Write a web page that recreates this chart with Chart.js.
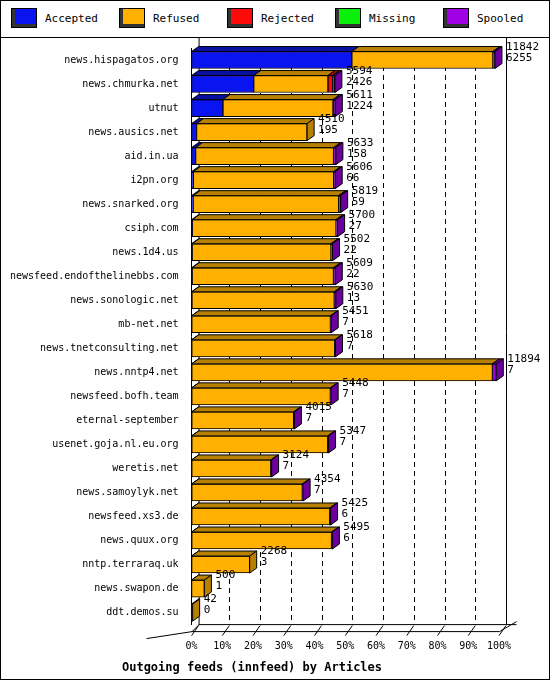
<!DOCTYPE html>
<html><head><meta charset="utf-8">
<script src="https://cdn.jsdelivr.net/npm/chart.js@4"></script>
<style>
body{margin:0;background:#fff;}
#wrap{position:relative;width:550px;height:680px;box-sizing:border-box;border:1px solid #000;}
#leg{position:absolute;left:0;top:0;width:548px;height:36px;border-bottom:1px solid #000;font:11px "DejaVu Sans Mono";}
.li{position:absolute;top:7px;display:flex;align-items:center;}
.bx{width:24px;height:18px;border:1px solid #000;margin-right:8px;box-shadow:3px -3px 0 #333 inset;}
canvas{position:absolute;left:0;top:0;}
</style></head><body>
<div id="wrap">
<div id="leg"></div>
<canvas id="c" width="548" height="678"></canvas>
</div>
<script>
const hosts=["news.hispagatos.org","news.chmurka.net","utnut","news.ausics.net","aid.in.ua","i2pn.org","news.snarked.org","csiph.com","news.1d4.us","newsfeed.endofthelinebbs.com","news.sonologic.net","mb-net.net","news.tnetconsulting.net","news.nntp4.net","newsfeed.bofh.team","eternal-september","usenet.goja.nl.eu.org","weretis.net","news.samoylyk.net","newsfeed.xs3.de","news.quux.org","nntp.terraraq.uk","news.swapon.de","ddt.demos.su"];
const offered=[11842,5594,5611,4510,5633,5606,5819,5700,5502,5609,5630,5451,5618,11894,5448,4015,5347,3124,4354,5425,5495,2268,500,42];
const accepted=[6255,2426,1224,195,158,66,59,27,22,22,13,7,7,7,7,7,7,7,7,6,6,3,1,0];
const rejected=[0,180,0,0,0,0,0,0,0,0,0,0,0,0,0,0,0,0,0,0,0,0,0,0];
const missing=[0,0,0,0,0,0,0,0,0,0,0,0,0,0,0,0,0,0,0,0,0,0,0,0];
const spooled=[80,90,90,0,90,60,80,60,60,70,60,30,30,150,30,30,30,30,30,30,30,0,0,0];
const refused=offered.map((t,i)=>t-accepted[i]-rejected[i]-missing[i]-spooled[i]);
const tickLabels=["0%","10%","20%","30%","40%","50%","60%","70%","80%","90%","100%"];
const names=["Accepted","Refused","Rejected","Missing","Spooled"];
const cols=["#0a14f0","#ffb000","#ff0a0a","#0af00a","#a000e6"];
const dark=["#0810a0","#b88000","#b00000","#08a008","#6c009c"];
const leg=document.getElementById('leg');
names.forEach((n,i)=>{const d=document.createElement('div');d.className='li';d.style.left=(10+i*108)+'px';
d.innerHTML='<span class="bx" style="background:'+cols[i]+'"></span>'+n;leg.appendChild(d);});
const D=7,DY=5;
const deco={id:'deco',
beforeDatasetsDraw(ch){const a=ch.chartArea,x=ch.scales.x,c=ch.ctx;c.save();c.strokeStyle='#000';c.lineWidth=1;
 c.setLineDash([5,4]);
 for(let k=1;k<=10;k++){const px=Math.round(x.getPixelForValue(k*1200))+D+0.5;if(k<10){c.beginPath();c.moveTo(px,a.top);c.lineTo(px,a.bottom);c.stroke();}}
 c.setLineDash([]);
 const r=Math.round(x.getPixelForValue(12000))+D+0.5;
 c.beginPath();c.moveTo(r,a.top-10);c.lineTo(r,a.bottom);c.stroke();
 c.beginPath();c.moveTo(a.left+D+0.5,a.top-10);c.lineTo(a.left+D+0.5,a.bottom);c.stroke();
 c.beginPath();c.moveTo(a.left+D,a.bottom);c.lineTo(r+10,a.bottom);c.stroke();
 c.beginPath();c.moveTo(a.left-45,a.bottom+14);c.lineTo(a.left+0.5,a.bottom+DY+2);c.lineTo(a.left+D+0.5,a.bottom);c.stroke();
 c.beginPath();c.moveTo(a.left,a.bottom+DY+2);c.lineTo(r-D,a.bottom+DY+2);c.lineTo(r+10,a.bottom-3);c.stroke();
 for(let k=0;k<=10;k++){const px=x.getPixelForValue(k*1200);c.beginPath();c.moveTo(px,a.bottom+DY+6);c.lineTo(px+D,a.bottom+1);c.stroke();}
 c.restore();},
afterDatasetsDraw(ch){const c=ch.ctx;c.save();c.lineWidth=1;c.strokeStyle='#000';
 const n=ch.data.labels.length;
 for(let i=0;i<n;i++){let last=-1;let x0=null;
  ch.data.datasets.forEach((ds,j)=>{const e=ch.getDatasetMeta(j).data[i];if(ds.data[i]>0){if(x0===null)x0=e.base;last=j;
   const l=e.base,rr=e.x,t=e.y-e.height/2;c.fillStyle=dark[j];c.beginPath();c.moveTo(l,t);c.lineTo(l+D,t-DY);c.lineTo(rr+D,t-DY);c.lineTo(rr,t);c.closePath();c.fill();c.stroke();}});
  if(last<0)continue;
  const e=ch.getDatasetMeta(last).data[i];const rr=e.x,t=e.y-e.height/2,b=e.y+e.height/2;
  c.fillStyle=dark[last];c.beginPath();c.moveTo(rr,t);c.lineTo(rr+D,t-DY);c.lineTo(rr+D,b-DY);c.lineTo(rr,b);c.closePath();c.fill();c.stroke();
  c.fillStyle='#000';c.font='11px "DejaVu Sans Mono"';c.textBaseline='top';
  c.fillText(String(offered[i]),rr+D+4,t-DY-5);c.fillText(String(accepted[i]),rr+D+4,t-DY+6);
 }
 c.restore();}};
const series=[accepted,refused,rejected,missing,spooled];
new Chart(document.getElementById('c'),{type:'bar',
data:{labels:hosts,datasets:series.map((s,j)=>({label:names[j],data:s,backgroundColor:cols[j],borderColor:'#000',borderWidth:1,borderSkipped:false,barThickness:17,stack:'a'}))},
options:{indexAxis:'y',responsive:false,animation:false,
layout:{padding:{top:47,right:50,left:4,bottom:0}},
plugins:{legend:{display:false},tooltip:{enabled:false},
 title:{display:true,position:'bottom',text:'Outgoing feeds (innfeed) by Articles',color:'#000',font:{family:'DejaVu Sans Mono',size:12,weight:'bold'},padding:{top:0,bottom:4}}},
scales:{x:{stacked:true,min:0,max:12000,grid:{display:false},border:{display:false},
 ticks:{stepSize:1200,maxRotation:0,minRotation:0,autoSkip:false,color:'#000',font:{family:'DejaVu Sans Mono',size:10},padding:8,callback:(v,i)=>tickLabels[i]}},
 y:{stacked:true,grid:{display:false},border:{display:true,color:'#000'},ticks:{color:'#000',font:{family:'DejaVu Sans Mono',size:10},padding:5}}}},
plugins:[deco]});
</script></body></html>
